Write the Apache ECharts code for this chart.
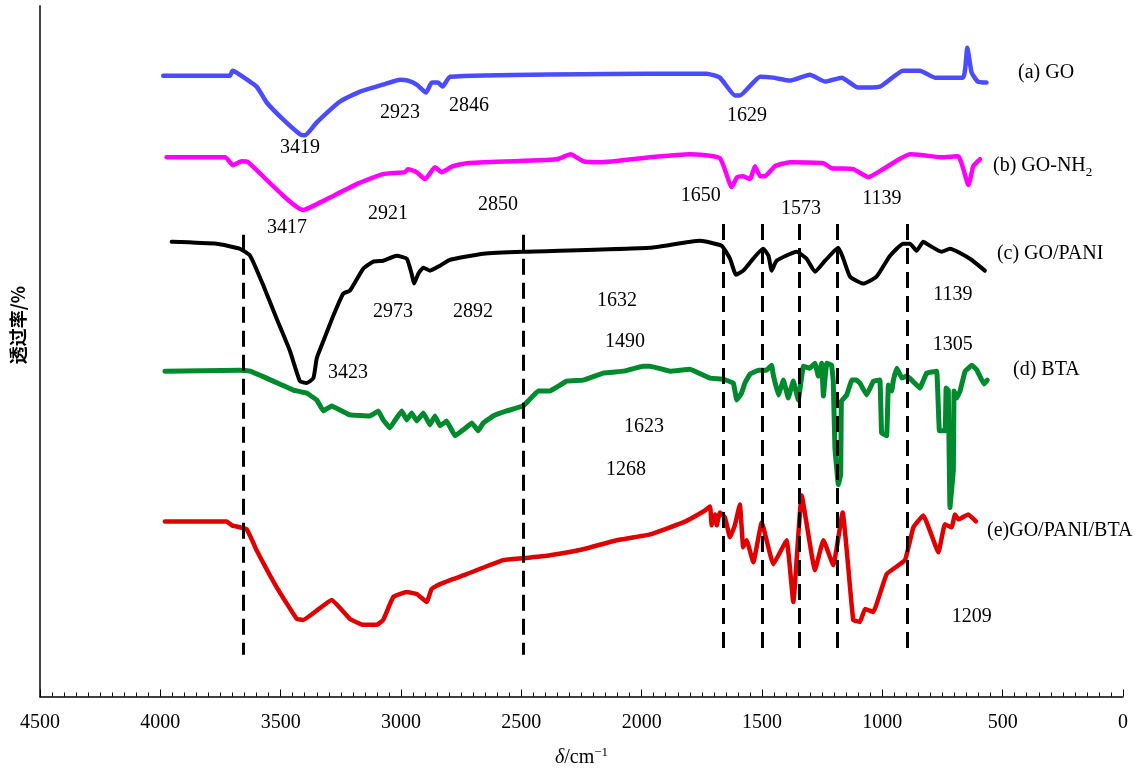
<!DOCTYPE html>
<html>
<head>
<meta charset="utf-8">
<script src="https://cdn.jsdelivr.net/npm/echarts@6/dist/echarts.min.js"></script>
<style>
html,body{margin:0;padding:0;background:#fff;}
#chart{width:1139px;height:773px;}
</style>
</head>
<body>
<div id="chart"></div>
<script>
// x: wavenumber (cm^-1), y: relative transmittance (stacked, arbitrary units)
const seriesGO = [[3988,624],[3711,624],[3700,629],[3683,627],[3600,613],[3558,597],[3490,580],[3419,565],[3399,564],[3350,577],[3253,598],[3170,608],[3075,615],[3004,620],[2971,619],[2935,615],[2896,607],[2872,617],[2846,617],[2827,613],[2796,623],[1965,626],[1730,626],[1675,622],[1612,604],[1592,604],[1508,623],[1454,622],[1384,619],[1301,625],[1238,618],[1169,622],[1101,612],[1010,613],[914,629],[844,629],[781,622],[665,622],[647,652],[629,627],[603,618],[567,617]];
const seriesGONH2 = [[3974,542],[3731,542],[3698,534],[3662,538],[3635,537],[3406,489],[3324,498],[3184,515],[3075,525],[2983,527],[2971,530],[2935,527],[2900,520],[2859,532],[2831,527],[2784,533],[2727,536],[2353,540],[2295,545],[2243,538],[2173,537],[1965,542],[1799,545],[1675,541],[1626,512],[1603,522],[1578,523],[1550,520],[1529,533],[1508,523],[1488,523],[1446,533],[1384,537],[1245,536],[1211,531],[1121,530],[1058,522],[997,530],[885,545],[830,544],[760,542],[685,543],[642,514],[622,533],[594,540]];
const seriesGOPANI = [[3953,457],[3766,455],[3669,450],[3627,443],[3572,413],[3517,380],[3461,347],[3420,317],[3392,315],[3364,320],[3350,340],[3323,357],[3281,383],[3240,405],[3212,408],[3157,430],[3115,437],[3074,438],[3018,443],[2976,440],[2956,425],[2946,415],[2928,425],[2907,431],[2880,428],[2838,433],[2796,439],[2658,445],[2492,447],[1965,451],[1758,458],[1668,453],[1633,440],[1608,424],[1578,428],[1495,450],[1473,443],[1460,428],[1439,438],[1356,447],[1315,440],[1280,427],[1238,438],[1183,451],[1162,440],[1134,422],[1079,415],[1024,422],[968,443],[913,455],[885,455],[858,448],[830,457],[802,453],[754,447],[719,450],[636,440],[574,428]];
const seriesBTA = [[3981,327],[3669,328],[3627,327],[3531,317],[3448,308],[3392,305],[3350,298],[3323,287],[3288,292],[3212,283],[3129,282],[3094,287],[3074,278],[3046,270],[3018,280],[2997,287],[2976,278],[2956,285],[2935,277],[2907,285],[2880,273],[2859,282],[2838,272],[2810,277],[2776,262],[2741,268],[2706,275],[2679,267],[2658,275],[2617,282],[2561,287],[2492,292],[2430,307],[2381,307],[2312,317],[2243,318],[2160,325],[2076,327],[1993,332],[1965,332],[1882,327],[1799,329],[1716,320],[1661,319],[1619,315],[1605,298],[1585,305],[1571,315],[1550,324],[1515,328],[1481,328],[1460,333],[1453,323],[1432,303],[1411,318],[1391,300],[1370,317],[1349,298],[1328,332],[1301,330],[1280,335],[1266,322],[1252,335],[1245,302],[1231,335],[1211,333],[1204,317],[1197,250],[1183,213],[1173,223],[1170,297],[1148,303],[1127,318],[1107,318],[1093,315],[1065,303],[1037,317],[1010,318],[1003,265],[982,262],[975,313],[961,307],[954,318],[940,330],[919,320],[899,322],[878,318],[844,310],[816,325],[774,327],[763,267],[739,267],[735,310],[726,308],[719,190],[705,227],[702,307],[691,300],[677,307],[656,327],[628,333],[607,328],[578,314],[564,318]];
const seriesGOPANIBTA = [[3981,176],[3724,176],[3703,172],[3641,168],[3600,147],[3517,110],[3433,78],[3406,77],[3288,97],[3212,78],[3157,72],[3101,72],[3074,77],[3032,100],[2976,105],[2935,103],[2893,95],[2873,108],[2838,113],[2727,123],[2575,137],[2492,139],[2381,142],[2243,148],[2104,157],[1965,163],[1827,175],[1737,187],[1716,191],[1709,172],[1695,183],[1688,172],[1675,185],[1654,180],[1633,160],[1613,172],[1592,193],[1578,150],[1564,157],[1536,135],[1501,175],[1453,133],[1398,157],[1370,95],[1335,202],[1280,127],[1245,157],[1204,132],[1165,185],[1121,77],[1093,75],[1072,88],[1038,85],[982,123],[906,137],[871,170],[830,182],[767,145],[740,173],[712,170],[698,183],[684,178],[643,183],[611,176]];

const seriesNames = ['(a) GO','(b) GO-NH2','(c) GO/PANI','(d) BTA','(e) GO/PANI/BTA'];
const seriesColors = ['#4b4bff','#ff00ff','#000000','#008a2e','#e00000'];

// reference dashed lines (wavenumber, top, bottom)
const dashX = [3655, 2492, 1661, 1501, 1345, 1187, 896];
const dashTop = [464, 464, 475, 475, 475, 475, 475];
const dashBottom = [42, 42, 48, 48, 48, 48, 48];

// peak annotations [x, y, text]
const peakLabels = [
  [3420,552,'3419'],[3004,587,'2923'],[2717,594,'2846'],[1562,584,'1629'],
  [3474,471,'3417'],[3054,485,'2921'],[2597,494,'2850'],[1754,503,'1650'],[1338,490,'1573'],[1002,500,'1139'],
  [3033,387,'2973'],[2701,387,'2892'],[2103,398,'1632'],[2069,357,'1490'],[3220,325,'3423'],[707,404,'1139'],[707,354,'1305'],
  [1990,271,'1623'],[2065,228,'1268'],[628,80,'1209']
];
// curve names [x(left), y, text]
const curveLabels = [
  [436,627,'(a) GO'],
  [540,533,'(b) GO-NH{sub|2}'],
  [524,445,'(c) GO/PANI'],
  [457,328,'(d) BTA'],
  [565,167,'(e)GO/PANI/BTA']
];

const chart = echarts.init(document.getElementById('chart'));
const serif = '"Liberation Serif", "Times New Roman", serif';
const dataSets = [seriesGO, seriesGONH2, seriesGOPANI, seriesBTA, seriesGOPANIBTA];
const widths = [4.5, 4.5, 4, 5, 4.5];
const smooths = [0.15, 0.15, 0.15, 0.05, 0.1];

const series = dataSets.map((d, i) => ({
  type: 'line', name: seriesNames[i], data: d, showSymbol: false, symbol: 'none',
  smooth: smooths[i], lineStyle: {color: seriesColors[i], width: widths[i], join: 'round', cap: 'round'},
  z: 3
}));

series.push({
  type: 'line', data: [], silent: true,
  markLine: {
    silent: true, symbol: ['none','none'], label: {show: false},
    lineStyle: {color: '#000', width: 3, type: [16, 8]},
    data: dashX.map((x, i) => [{coord: [x, dashTop[i]]}, {coord: [x, dashBottom[i]]}])
  },
  z: 2
});

const labelFont = {fontFamily: serif, fontSize: 20, color: '#000', textBorderWidth: 0};

series.push({
  type: 'scatter', symbolSize: 0, silent: true,
  itemStyle: {opacity: 1, color: '#000'},
  data: peakLabels.map(p => ({value: [p[0], p[1]], name: p[2]})),
  label: Object.assign({show: true, position: 'inside', formatter: p => p.name}, labelFont),
  z: 5
});

series.push({
  type: 'scatter', symbolSize: 0, silent: true,
  itemStyle: {opacity: 1, color: '#000'},
  data: curveLabels.map(p => ({value: [p[0], p[1]], name: p[2]})),
  label: Object.assign({show: true, position: 'right', distance: 0, formatter: p => p.name,
    rich: {sub: {fontFamily: serif, fontSize: 13, color: '#000', padding: [12, 0, 0, 0]}}}, labelFont),
  z: 5
});

chart.setOption({
  animation: false,
  backgroundColor: '#fff',
  grid: {left: 40, right: 16, top: 6, bottom: 73},
  xAxis: {
    type: 'value', min: 0, max: 4500, interval: 500, inverse: true,
    axisLine: {onZero: false, lineStyle: {color: '#000', width: 1.5}},
    axisTick: {inside: true, length: 7, lineStyle: {color: '#000', width: 1}},
    minorTick: {show: true, splitNumber: 10, length: 4, lineStyle: {color: '#000', width: 1}},
    splitLine: {show: false},
    axisLabel: {fontFamily: serif, fontSize: 20, color: '#000', margin: 16, formatter: v => String(v)},
    name: '{i|δ}{n|/cm}{s|−1}', nameLocation: 'middle', nameGap: 50,
    nameTextStyle: {
      rich: {
        i: {fontFamily: serif, fontStyle: 'italic', fontSize: 20, color: '#000'},
        n: {fontFamily: serif, fontSize: 20, color: '#000'},
        s: {fontFamily: serif, fontSize: 13, color: '#000', padding: [0, 0, 10, 0]}
      }
    }
  },
  yAxis: {
    type: 'value', min: 0, max: 694, position: 'left',
    axisLine: {show: true, onZero: false, lineStyle: {color: '#444', width: 2}},
    axisTick: {show: false}, axisLabel: {show: false}, splitLine: {show: false}
  },
  graphic: [{
    type: 'text', left: 9, top: 286,
    rotation: Math.PI / 2,
    style: {text: '透过率/%', font: 'bold 18px "Noto Sans CJK SC"', fill: '#000'}
  }],
  series: series
});
</script>
</body>
</html>
